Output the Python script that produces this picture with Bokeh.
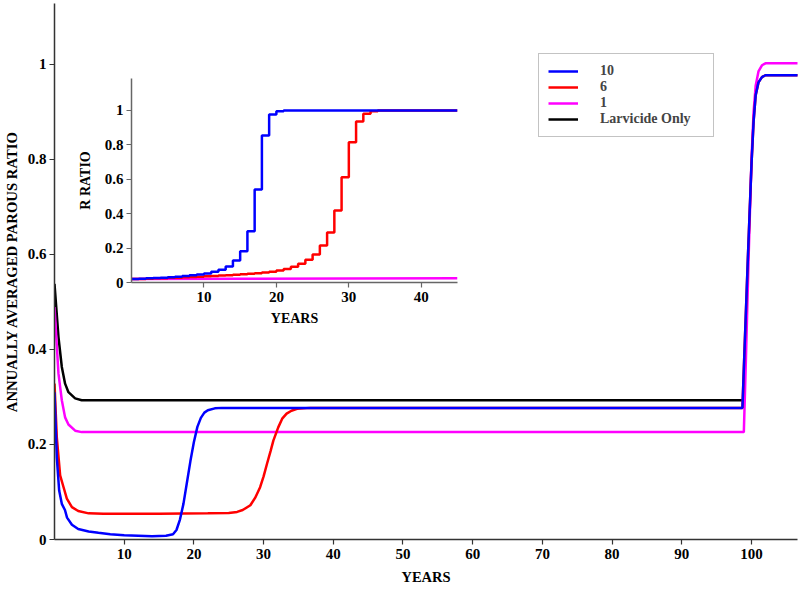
from bokeh.plotting import figure
from bokeh.models import (Range1d, FixedTicker, CustomJSTickFormatter, Legend, LegendItem, GridBox)
from bokeh.embed import file_html
from bokeh.resources import INLINE

# ---------------- main chart data (years, annually averaged parous ratio) ----------------
blue_x = [0, 0.33, 0.67, 1.05, 1.5, 1.8, 2.5, 3.4, 4.9, 6.3, 8, 10, 12, 14, 16, 17, 17.5, 18, 18.5,
          19, 19.5, 20, 20.5, 21, 21.5, 22, 23, 24, 60, 98.7, 99.0, 99.5, 100.0, 100.3, 100.6,
          101.0, 101.5, 102.0, 107]
blue_y = [0.31, 0.173, 0.103, 0.075, 0.062, 0.046, 0.031, 0.022, 0.017, 0.014, 0.011, 0.009, 0.008,
          0.007, 0.008, 0.011, 0.02, 0.042, 0.075, 0.12, 0.165, 0.205, 0.237, 0.256, 0.267, 0.272,
          0.276, 0.277, 0.277, 0.277, 0.40, 0.60, 0.79, 0.88, 0.935, 0.962, 0.973, 0.977, 0.977]

red_x = [0, 0.33, 0.81, 1.3, 1.77, 2.5, 3.4, 4.9, 7, 15, 22, 25, 26.2, 27, 28.1, 28.8, 29.5, 30,
         30.5, 31, 31.4, 32.1, 32.7, 33.3, 34, 34.8, 36.7, 60, 98.7, 99.0, 99.5, 100.0, 100.3,
         100.6, 101.0, 101.5, 102.0, 107]
red_y = [0.328, 0.215, 0.135, 0.11, 0.086, 0.068, 0.06, 0.055, 0.054, 0.054, 0.055, 0.056, 0.058,
         0.062, 0.072, 0.088, 0.11, 0.133, 0.16, 0.186, 0.208, 0.236, 0.255, 0.265, 0.271, 0.275,
         0.277, 0.277, 0.277, 0.40, 0.60, 0.79, 0.88, 0.935, 0.962, 0.973, 0.977, 0.977]

mag_x = [0, 0.57, 1.05, 1.52, 2.0, 2.96, 3.9, 60, 98.9, 99.2, 99.6, 100.0, 100.3, 100.6, 101.0,
         101.5, 102.0, 107]
mag_y = [0.489, 0.349, 0.293, 0.257, 0.242, 0.229, 0.226, 0.226, 0.226, 0.38, 0.6, 0.80, 0.9,
         0.955, 0.985, 0.998, 1.002, 1.002]

blk_x = [0, 0.57, 1.05, 1.52, 2.0, 2.96, 3.9, 60, 98.7]
blk_y = [0.538, 0.426, 0.363, 0.328, 0.31, 0.297, 0.293, 0.293, 0.293]

main_xticks = [10, 20, 30, 40, 50, 60, 70, 80, 90, 100]
main_yticks = [0, 0.2, 0.4, 0.6, 0.8, 1]

# ---------------- inset data (years, R ratio; value held over each year) ----------------
in_blue_x = [0, 1, 2, 3, 4, 5, 6, 7, 8, 9, 10, 11, 12, 13, 14, 15, 16, 17, 18, 19, 20, 21, 45]
in_blue_y = [0.020, 0.022, 0.024, 0.026, 0.028, 0.031, 0.034, 0.038, 0.042, 0.047, 0.053, 0.063,
             0.074, 0.093, 0.128, 0.182, 0.298, 0.54, 0.855, 0.977, 0.995, 1.0, 1.0]

in_red_x = [0, 1, 2, 3, 4, 5, 6, 7, 8, 9, 10, 11, 12, 13, 14, 15, 16, 17, 18, 19, 20, 21, 22, 23,
            24, 25, 26, 27, 28, 29, 30, 31, 32, 33, 34, 45]
in_red_y = [0.020, 0.021, 0.022, 0.024, 0.025, 0.027, 0.028, 0.030, 0.032, 0.034, 0.036, 0.038,
            0.040, 0.042, 0.045, 0.048, 0.051, 0.054, 0.058, 0.063, 0.070, 0.078, 0.092, 0.109,
            0.132, 0.163, 0.215, 0.29, 0.419, 0.612, 0.816, 0.936, 0.981, 0.995, 1.0, 1.0]

in_mag_x = [0, 15, 30, 45]
in_mag_y = [0.020, 0.022, 0.023, 0.025]

inset_xticks = [10, 20, 30, 40]
inset_yticks = [0, 0.2, 0.4, 0.6, 0.8, 1]

BLUE, RED, MAG, BLK = "#0000FF", "#FF0000", "#FF00FF", "#000000"
FONT = "Liberation Serif"


def style_axes(p, axis_color):
    p.outline_line_color = None
    p.xgrid.visible = False
    p.ygrid.visible = False
    for ax in (p.xaxis[0], p.yaxis[0]):
        ax.axis_line_color = axis_color
        ax.axis_line_width = 1.5
        ax.major_tick_line_color = axis_color
        ax.major_tick_line_width = 1.2
        ax.major_tick_in = 0
        ax.major_tick_out = 5
        ax.minor_tick_line_color = None
        ax.major_label_text_font = FONT
        ax.major_label_text_font_style = "bold"
        ax.major_label_text_font_size = "15px"
        ax.major_label_text_color = "#000000"
        ax.axis_label_text_font = FONT
        ax.axis_label_text_font_style = "bold"
        ax.axis_label_text_font_size = "14px"
        ax.axis_label_text_color = "#000000"


fmt = "return String(tick);"

# ---------------- main figure ----------------
main = figure(width=799, height=590, x_range=Range1d(0, 106.6), y_range=Range1d(0, 1.128),
              output_backend="svg", toolbar_location=None,
              min_border_left=51, min_border_right=2, min_border_top=3, min_border_bottom=51)
main.background_fill_color = "white"
style_axes(main, "#333333")
main.xaxis.ticker = FixedTicker(ticks=main_xticks)
main.yaxis.ticker = FixedTicker(ticks=main_yticks)
main.yaxis.formatter = CustomJSTickFormatter(code=fmt)
main.xaxis.axis_label = "YEARS"
main.yaxis.axis_label = "ANNUALLY AVERAGED PAROUS RATIO"
main.xaxis.axis_label_text_font_size = "14.5px"
main.yaxis.axis_label_text_font_size = "14.7px"
main.xaxis.major_label_standoff = 4
main.xaxis.axis_label_standoff = 7
main.yaxis.major_label_standoff = 3
main.yaxis.axis_label_standoff = 5

r_blk = main.line(blk_x, blk_y, line_color=BLK, line_width=2.5)
r_mag = main.line(mag_x, mag_y, line_color=MAG, line_width=2.5)
r_red = main.line(red_x, red_y, line_color=RED, line_width=2.5)
r_blue = main.line(blue_x, blue_y, line_color=BLUE, line_width=2.5)

legend = Legend(items=[LegendItem(label="10", renderers=[r_blue]),
                       LegendItem(label="6", renderers=[r_red]),
                       LegendItem(label="1", renderers=[r_mag]),
                       LegendItem(label="Larvicide Only", renderers=[r_blk])],
                location=(484, 402), padding=9, spacing=0, margin=0,
                glyph_width=30, glyph_height=16, label_height=16, label_width=104,
                label_standoff=22,
                label_text_font=FONT, label_text_font_style="bold", label_text_font_size="14px",
                border_line_color="#888888", border_line_width=1.5,
                background_fill_color="white", background_fill_alpha=1.0)
main.add_layout(legend)

# ---------------- inset figure ----------------
inset = figure(width=390, height=259, x_range=Range1d(0, 45), y_range=Range1d(0, 1.186),
               output_backend="svg", toolbar_location=None,
               min_border_left=60, min_border_right=4, min_border_top=0, min_border_bottom=55)
inset.background_fill_color = None
inset.border_fill_color = None
style_axes(inset, "#666666")
inset.xaxis.ticker = FixedTicker(ticks=inset_xticks)
inset.yaxis.ticker = FixedTicker(ticks=inset_yticks)
inset.yaxis.formatter = CustomJSTickFormatter(code=fmt)
inset.xaxis.axis_label = "YEARS"
inset.yaxis.axis_label = "R RATIO"
inset.xaxis.major_label_standoff = 4
inset.xaxis.axis_label_standoff = 6
inset.yaxis.major_label_standoff = 3
inset.yaxis.axis_label_standoff = 9

inset.line(in_mag_x, in_mag_y, line_color=MAG, line_width=2.5)
inset.step(in_red_x, in_red_y, mode="after", line_color=RED, line_width=2.5)
inset.step(in_blue_x, in_blue_y, mode="after", line_color=BLUE, line_width=2.5)

layout = GridBox(children=[(main, 0, 0, 3, 3), (inset, 1, 1, 1, 1)],
                 rows=["78px", "259px", "auto"], cols=["71px", "390px", "auto"])

open("out.html", "w").write(file_html(layout, INLINE))
